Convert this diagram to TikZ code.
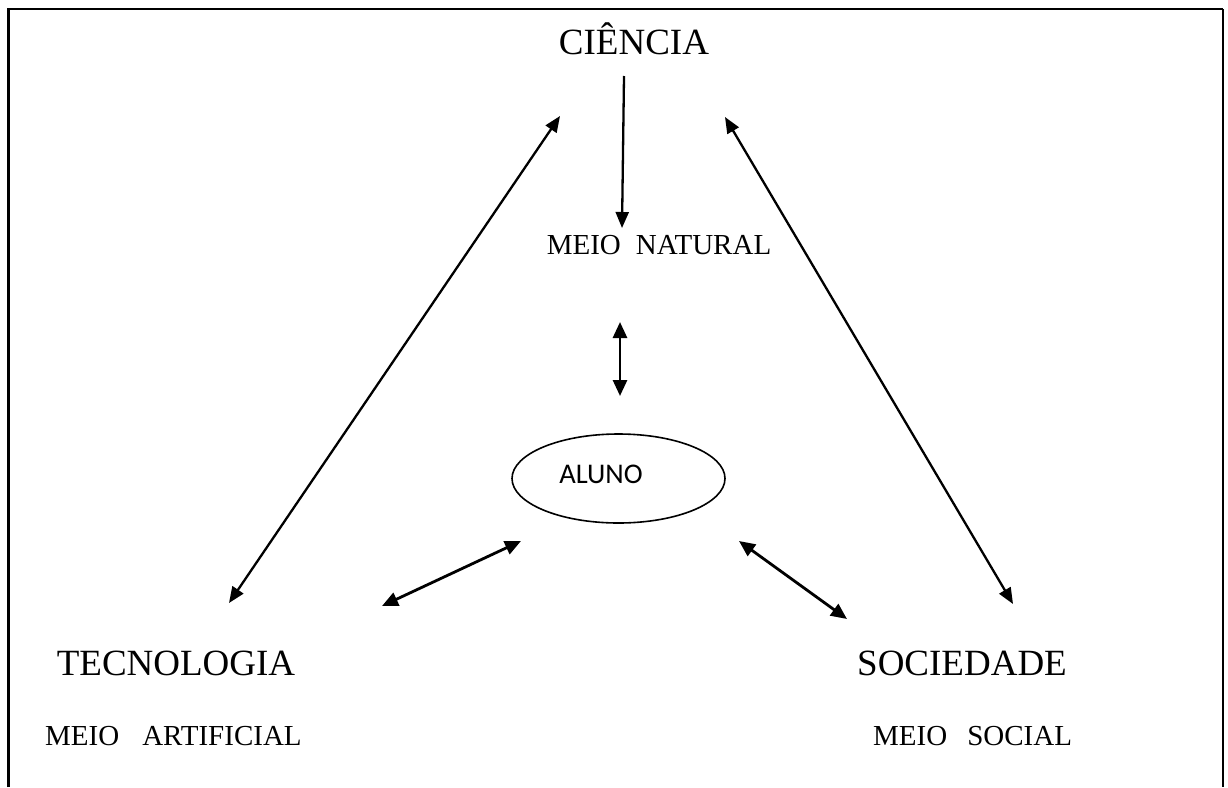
\documentclass[tikz,border=0pt]{standalone}
\usepackage{fontspec}
\setmainfont{Liberation Serif}
\newfontfamily\alunofont{Carlito}
\usetikzlibrary{arrows.meta,shapes.geometric}
\tikzset{
  big/.style={font=\fontsize{37}{40}\selectfont, inner sep=0pt, anchor=base},
  mid/.style={font=\fontsize{29}{32}\selectfont, inner sep=0pt, anchor=base},
  link/.style={line width=2.3pt, {Triangle[length=16pt,width=13pt]}-{Triangle[length=16pt,width=13pt]}},
  slink/.style={line width=2.8pt, {Triangle[length=16pt,width=14pt]}-{Triangle[length=16pt,width=14pt]}},
  down/.style={line width=2.3pt, -{Triangle[length=16pt,width=13pt]}},
}
\begin{document}
\begin{tikzpicture}[x=1pt,y=-1pt]
\useasboundingbox (0,0) rectangle (1228,787);
% frame (open at the bottom)
\draw[line width=2.2pt] (8.5,787) -- (8.5,9) -- (1223,9);
\draw[line width=1.3pt] (1223,9) -- (1223,787);
% texts
\node[big] (ciencia) at (634,54) {CIÊNCIA};
\node[mid] (natural) at (659,254) {MEIO\hspace{15pt}NATURAL};
\node[big] (tecno) at (176,675) {TECNOLOGIA};
\node[big] (socie) at (962,675) {SOCIEDADE};
\node[mid, anchor=base west] (artif) at (45,745) {MEIO\hspace{23pt}ARTIFICIAL};
\node[mid, anchor=base west] (social) at (873,745) {MEIO\hspace{20pt}SOCIAL};
\node[draw, ellipse, line width=1.6pt, minimum width=213pt, minimum height=89pt, inner sep=0pt] (aluno) at (618.5,478.5) {};
\node[font=\alunofont\fontsize{28.5}{30}\selectfont, inner sep=0pt, anchor=base] (alunotxt) at (601,483) {ALUNO};
% arrow ends
\coordinate (c1) at (624,76);
\coordinate (c2) at (622,228);
\coordinate (l1) at (560,116);
\coordinate (l2) at (229,603);
\coordinate (r1) at (725,117);
\coordinate (r2) at (1013,604);
\coordinate (v1) at (620,322);
\coordinate (v2) at (620,396);
\coordinate (a1) at (521,541);
\coordinate (a2) at (382,606);
\coordinate (b1) at (739,541);
\coordinate (b2) at (847,619);
% connectors
\draw[down] (c1) -- (c2);
\draw[link] (l1) -- (l2);
\draw[link] (r1) -- (r2);
\draw[slink] (v1) -- (v2);
\draw[slink] (a1) -- (a2);
\draw[slink] (b1) -- (b2);
\end{tikzpicture}
\end{document}
